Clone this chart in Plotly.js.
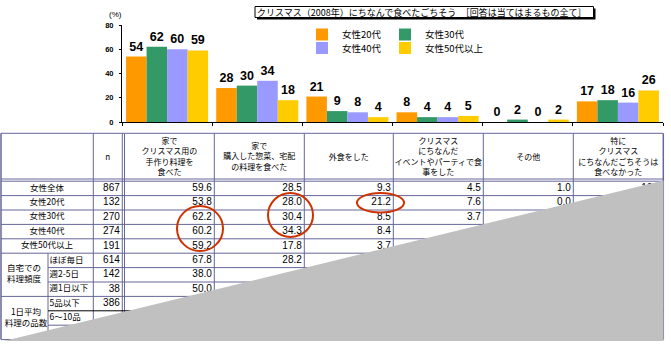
<!DOCTYPE html>
<html><head><meta charset="utf-8">
<script src="https://cdn.plot.ly/plotly-3.0.1.min.js"></script>
<style>html,body{margin:0;padding:0;background:#fff;}</style>
</head><body><div id="chart" style="width:671px;height:360px;"></div>
<script>
// ---------- chart data ----------
const categories = ['家でクリスマス用の手作り料理を食べた', '家で購入した惣菜、宅配の料理を食べた', '外食をした', 'クリスマスにちなんだイベントやパーティで食事をした', 'その他', '特にクリスマスにちなんだごちそうは食べなかった'];
const seriesNames = ['女性20代', '女性30代', '女性40代', '女性50代以上'];
const women20s = [54, 28, 21, 8, 0, 17];
const women30s = [62, 30, 9, 4, 2, 18];
const women40s = [60, 34, 8, 4, 0, 16];
const women50plus = [59, 18, 4, 5, 2, 26];
const yTickValues = [0, 20, 40, 60, 80];
const chartTitle = 'クリスマス（2008年）にちなんで食べたごちそう　［回答は当てはまるもの全て］';
const unitLabel = '(%)';

// ---------- table data ----------
const tableHeaders = ['家で<br>クリスマス用の<br>手作り料理を<br>食べた', '家で<br>購入した惣菜、宅配<br>の料理を食べた', '外食をした', 'クリスマス<br>にちなんだ<br>イベントやパーティで食<br>事をした', 'その他', '特に<br>クリスマス<br>にちなんだごちそうは<br>食べなかった'];
const nHeader = 'n';
const rowLabels = ['女性全体', '女性20代', '女性30代', '女性40代', '女性50代以上'];
const groupLabels = ['自宅での<br>料理頻度', '1日平均<br>料理の品数'];
const subRowLabels = ['ほぼ毎日', '週2-5日', '週1日以下', '5品以下', '6～10品', ''];
const nValues = ['867', '132', '270', '274', '191', '614', '142', '38', '386', '', ''];
const colHomemade = ['59.6', '53.8', '62.2', '60.2', '59.2', '67.8', '38.0', '50.0', '', '', ''];
const colPurchased = ['28.5', '28.0', '30.4', '34.3', '17.8', '28.2', '', '', '', '', ''];
const colEatingOut = ['9.3', '21.2', '8.5', '8.4', '3.7', '', '', '', '', '', ''];
const colEvent = ['4.5', '7.6', '3.7', '', '', '', '', '', '', '', ''];
const colOther = ['1.0', '0.0', '', '', '', '', '', '', '', '', ''];
const colNone = ['19.0', '', '', '', '', '', '', '', '', '', ''];

// ---------- layout geometry (pixels) ----------
const W = 671, H = 360;
const G = {
  plotLeft: 122, plotRight: 663, plotTop: 25, plotBottom: 122,
  colEdges: [1, 93.3, 124.5, 214.3, 304.3, 393.3, 483.3, 573.3, 663.3],
  nInner: 122.3, subSplit: 48,
  tableTop: 133.3, headLine1: 179.0, headLine2: 181.2, rowH: 14.4, nRows: 11,
  headCenter: 157.5,
  legendPos: [[302, 20], [385, 20], [302, 33.5], [385, 33.5]]
};
const colors = ['#FF9900', '#339966', '#9999FF', '#FFCC00'];
const lineCol = '#666699';
const cjk = 'Noto Sans CJK JP';
const latin = 'Liberation Sans, Arial, sans-serif';

const series = [women20s, women30s, women40s, women50plus];
const legendIds = ['legend', 'legend2', 'legend3', 'legend4'];
const traces = series.map((vals, i) => ({
  type: 'bar', name: seriesNames[i], x: categories, y: vals,
  marker: {color: colors[i], line: {width: 0}},
  text: vals.map(String), textposition: 'outside', cliponaxis: false, constraintext: 'none',
  textfont: {family: latin, size: 12.5, color: '#000', weight: 'bold'},
  xaxis: 'x', yaxis: 'y', legend: legendIds[i], hoverinfo: 'skip'
}));

// table texts
const rowTop = r => G.headLine2 + G.rowH * r;
const rowMid = r => rowTop(r) + G.rowH / 2;
const dataCols = [colHomemade, colPurchased, colEatingOut, colEvent, colOther, colNone];
const e = G.colEdges;
const dataColCenters = [3,4,5,6,7,8].map(k => (e[k-1] + e[k]) / 2);

traces.push({
  type: 'scatter', mode: 'text', xaxis: 'x2', yaxis: 'y2', showlegend: false, hoverinfo: 'skip',
  x: dataColCenters.concat([(e[1] + G.nInner) / 2]), y: dataColCenters.map(() => G.headCenter).concat([G.headCenter]),
  text: tableHeaders.concat([nHeader]), textposition: 'middle center',
  textfont: {family: cjk, size: 8, color: '#000'}, cliponaxis: false
});
traces.push({
  type: 'scatter', mode: 'text', xaxis: 'x2', yaxis: 'y2', showlegend: false, hoverinfo: 'skip',
  x: rowLabels.map(() => 47), y: rowLabels.map((_, r) => rowMid(r)),
  text: rowLabels, textposition: 'middle center',
  textfont: {family: cjk, size: 8.5, color: '#000'}, cliponaxis: false
});
traces.push({
  type: 'scatter', mode: 'text', xaxis: 'x2', yaxis: 'y2', showlegend: false, hoverinfo: 'skip',
  x: [24, 26], y: [(rowTop(5) + rowTop(8)) / 2, (rowTop(8) + rowTop(11)) / 2],
  text: groupLabels, textposition: 'middle center',
  textfont: {family: cjk, size: 8.5, color: '#000'}, cliponaxis: false
});
traces.push({
  type: 'scatter', mode: 'text', xaxis: 'x2', yaxis: 'y2', showlegend: false, hoverinfo: 'skip',
  x: subRowLabels.map(() => G.subSplit + 1.5), y: subRowLabels.map((_, i) => rowMid(5 + i)),
  text: subRowLabels, textposition: 'middle right',
  textfont: {family: cjk, size: 8.5, color: '#000'}, cliponaxis: false
});
const numX = [], numY = [], numT = [];
const rights = [G.nInner].concat([3,4,5,6,7,8].map(k => e[k]));
[nValues].concat(dataCols).forEach((col, c) => {
  col.forEach((v, r) => { if (v !== '') { numX.push(rights[c] - 2.5); numY.push(rowMid(r)); numT.push(v); } });
});
traces.push({
  type: 'scatter', mode: 'text', xaxis: 'x2', yaxis: 'y2', showlegend: false, hoverinfo: 'skip',
  x: numX, y: numY, text: numT, textposition: 'middle left',
  textfont: {family: latin, size: 10, color: '#000'}, cliponaxis: false
});

// shapes
const shapes = [];
const ln = (x0, y0, x1, y1, col, w) => shapes.push({type: 'line', xref: 'x2', yref: 'y2', x0, y0, x1, y1, layer: 'above', line: {color: col || lineCol, width: w || 1}});
const tBottom = rowTop(G.nRows);
ln(e[0], G.tableTop, e[8], G.tableTop);
ln(e[0], G.headLine1, e[8], G.headLine1);
ln(e[0], G.headLine2, e[8], G.headLine2);
ln(e[0], tBottom, e[8], tBottom);
ln(e[0], G.tableTop, e[0], tBottom, null, 1.5);
ln(e[8], G.tableTop, e[8], tBottom, null, 1.5);
[e[1], G.nInner, e[2], e[3], e[4], e[5], e[6], e[7]].forEach(x => ln(x, G.tableTop, x, tBottom));
ln(G.subSplit, rowTop(5), G.subSplit, tBottom);
for (let r = 1; r < G.nRows; r++) {
  const sub = [6, 7, 9, 10].includes(r);
  ln(sub ? G.subSplit : e[0], rowTop(r), e[8], rowTop(r), r === 9 ? '#000' : null);
}
// title box with shadow
shapes.push({type: 'rect', xref: 'x2', yref: 'y2', x0: 257, y0: 8.5, x1: 595.5, y1: 19.5, fillcolor: '#000', line: {width: 0}, layer: 'above'});
shapes.push({type: 'rect', xref: 'x2', yref: 'y2', x0: 255, y0: 6.5, x1: 593.5, y1: 17.5, fillcolor: '#fff', line: {color: '#000', width: 1}, layer: 'above'});
// red highlight ellipses
[[177, 206, 223, 251], [268, 193, 313, 237], [357, 193, 404, 212.5]].forEach(([x0, y0, x1, y1]) =>
  shapes.push({type: 'circle', xref: 'x2', yref: 'y2', x0, y0, x1, y1, layer: 'above', fillcolor: 'rgba(0,0,0,0)', line: {color: '#CC3300', width: 2}}));
// grey page-curl wedge
shapes.push({type: 'path', xref: 'x2', yref: 'y2', path: 'M 4 341 L 663.5 180.5 L 663.5 341 Z', fillcolor: '#C0C0C0', line: {width: 0}, layer: 'above'});

const layout = {
  width: W, height: H, margin: {l: 0, r: 0, t: 0, b: 0},
  paper_bgcolor: '#fff', plot_bgcolor: 'rgba(0,0,0,0)',
  barmode: 'group', bargap: 0.09, bargroupgap: 0, hovermode: false,
  title: {text: chartTitle, x: 257 / W, xanchor: 'left', xref: 'paper', y: (H - 12.5) / H, yanchor: 'middle', yref: 'paper',
          font: {family: cjk, size: 9, color: '#000'}},
  xaxis: {domain: [G.plotLeft / W, G.plotRight / W], anchor: 'y', type: 'category', showticklabels: false,
          showline: true, linecolor: '#000', linewidth: 1, ticks: 'outside', tickson: 'boundaries', ticklen: 3, tickcolor: '#000',
          showgrid: false, zeroline: false, fixedrange: true},
  yaxis: {domain: [(H - G.plotBottom) / H, (H - G.plotTop) / H], anchor: 'x', range: [0, 80], tickvals: yTickValues,
          showline: true, linecolor: '#000', linewidth: 1, ticks: 'outside', ticklen: 2, tickcolor: '#000',
          tickfont: {family: latin, size: 7.5, color: '#000', weight: 'bold'}, ticklabelstandoff: 4,
          showgrid: false, zeroline: false, fixedrange: true},
  xaxis2: {domain: [0, 1], range: [0, W], anchor: 'y2', visible: false, fixedrange: true},
  yaxis2: {domain: [0, 1], range: [H, 0], anchor: 'x2', visible: false, fixedrange: true},
  annotations: [{text: unitLabel, xref: 'paper', yref: 'paper', x: 115 / W, y: (H - 15) / H, xanchor: 'center', yanchor: 'middle',
                 showarrow: false, font: {family: latin, size: 8, color: '#000'}}],
  shapes: shapes
};
legendIds.forEach((id, i) => {
  layout[id] = {orientation: 'v', x: G.legendPos[i][0] / W, y: (H - G.legendPos[i][1]) / H, xanchor: 'left', yanchor: 'top',
                bgcolor: 'rgba(0,0,0,0)', font: {family: cjk, size: 9.5, color: '#000'}};
});
Plotly.newPlot('chart', traces, layout, {displayModeBar: false, staticPlot: true});
</script></body></html>
